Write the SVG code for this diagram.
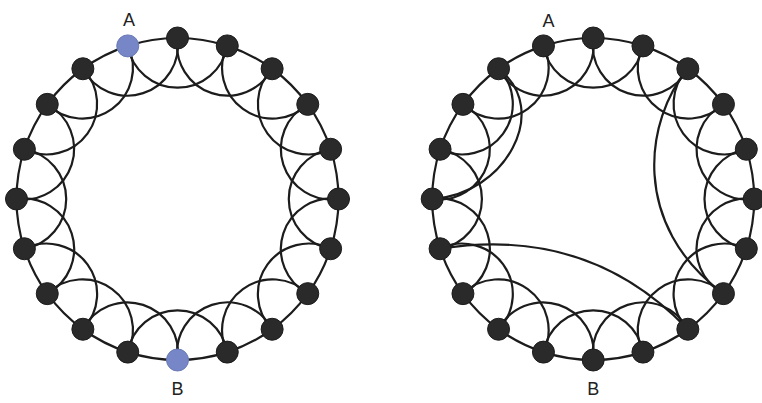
<svg xmlns="http://www.w3.org/2000/svg" xmlns:xlink="http://www.w3.org/1999/xlink" width="762" height="403" viewBox="0 0 762 403">
<style>
.e{fill:none;stroke:#1c1c1c;stroke-width:2.2}
.n{fill:#2a2a2a;stroke:#1c1c1c;stroke-width:1}
.b{fill:#7686c6;stroke:#6a7ab8;stroke-width:1}
.t{font-family:"Liberation Sans",Arial,sans-serif;font-size:18px;fill:#222;text-anchor:middle}
</style>
<defs>
<path id="inner" d="M0,-161 A50.5,50.5 0 0 0 94.63,-130.25"/>
<path id="outer" d="M0,-161 A161,161 0 0 1 49.75,-153.12"/>
</defs>
<rect width="762" height="403" fill="#fff"/>
<g id="connectors" class="e">
<g id="left-edges" transform="translate(177.5,199)">
<use href="#inner"/><use href="#inner" transform="rotate(18)"/><use href="#inner" transform="rotate(36)"/><use href="#inner" transform="rotate(54)"/><use href="#inner" transform="rotate(72)"/><use href="#inner" transform="rotate(90)"/><use href="#inner" transform="rotate(108)"/><use href="#inner" transform="rotate(126)"/><use href="#inner" transform="rotate(144)"/><use href="#inner" transform="rotate(162)"/><use href="#inner" transform="rotate(180)"/><use href="#inner" transform="rotate(198)"/><use href="#inner" transform="rotate(216)"/><use href="#inner" transform="rotate(234)"/><use href="#inner" transform="rotate(252)"/><use href="#inner" transform="rotate(270)"/><use href="#inner" transform="rotate(288)"/><use href="#inner" transform="rotate(306)"/><use href="#inner" transform="rotate(324)"/><use href="#inner" transform="rotate(342)"/>
<use href="#outer"/><use href="#outer" transform="rotate(18)"/><use href="#outer" transform="rotate(36)"/><use href="#outer" transform="rotate(54)"/><use href="#outer" transform="rotate(72)"/><use href="#outer" transform="rotate(90)"/><use href="#outer" transform="rotate(108)"/><use href="#outer" transform="rotate(126)"/><use href="#outer" transform="rotate(144)"/><use href="#outer" transform="rotate(162)"/><use href="#outer" transform="rotate(180)"/><use href="#outer" transform="rotate(198)"/><use href="#outer" transform="rotate(216)"/><use href="#outer" transform="rotate(234)"/><use href="#outer" transform="rotate(252)"/><use href="#outer" transform="rotate(270)"/><use href="#outer" transform="rotate(288)"/><use href="#outer" transform="rotate(306)"/><use href="#outer" transform="rotate(324)"/><use href="#outer" transform="rotate(342)"/>
</g>
<g id="right-edges" transform="translate(593.2,199)">
<use href="#inner"/><use href="#inner" transform="rotate(18)"/><use href="#inner" transform="rotate(36)"/><use href="#inner" transform="rotate(54)"/><use href="#inner" transform="rotate(72)"/><use href="#inner" transform="rotate(90)"/><use href="#inner" transform="rotate(108)"/><use href="#inner" transform="rotate(126)"/><use href="#inner" transform="rotate(144)"/><use href="#inner" transform="rotate(162)"/><use href="#inner" transform="rotate(180)"/><use href="#inner" transform="rotate(198)"/><use href="#inner" transform="rotate(216)"/><use href="#inner" transform="rotate(234)"/><use href="#inner" transform="rotate(252)"/><use href="#inner" transform="rotate(270)"/><use href="#inner" transform="rotate(288)"/><use href="#inner" transform="rotate(306)"/><use href="#inner" transform="rotate(324)"/><use href="#inner" transform="rotate(342)"/>
<use href="#outer"/><use href="#outer" transform="rotate(18)"/><use href="#outer" transform="rotate(36)"/><use href="#outer" transform="rotate(54)"/><use href="#outer" transform="rotate(72)"/><use href="#outer" transform="rotate(90)"/><use href="#outer" transform="rotate(108)"/><use href="#outer" transform="rotate(126)"/><use href="#outer" transform="rotate(144)"/><use href="#outer" transform="rotate(162)"/><use href="#outer" transform="rotate(180)"/><use href="#outer" transform="rotate(198)"/><use href="#outer" transform="rotate(216)"/><use href="#outer" transform="rotate(234)"/><use href="#outer" transform="rotate(252)"/><use href="#outer" transform="rotate(270)"/><use href="#outer" transform="rotate(288)"/><use href="#outer" transform="rotate(306)"/><use href="#outer" transform="rotate(324)"/><use href="#outer" transform="rotate(342)"/>
</g>
<g id="shortcuts">
<path d="M432.2,199 C505,195 552,110 498.57,68.75"/>
<path d="M687.83,68.75 C645,120 630,225 723.45,293.63"/>
<path d="M440.08,248.75 C520,236 610,248 687.83,329.25"/>
</g>
</g>
<g id="left-nodes">
<g id="L0"><circle class="n" cx="177.5" cy="38" r="11"/></g>
<g id="L1"><circle class="n" cx="227.25" cy="45.88" r="11"/></g>
<g id="L2"><circle class="n" cx="272.13" cy="68.75" r="11"/></g>
<g id="L3"><circle class="n" cx="307.75" cy="104.37" r="11"/></g>
<g id="L4"><circle class="n" cx="330.62" cy="149.25" r="11"/></g>
<g id="L5"><circle class="n" cx="338.5" cy="199" r="11"/></g>
<g id="L6"><circle class="n" cx="330.62" cy="248.75" r="11"/></g>
<g id="L7"><circle class="n" cx="307.75" cy="293.63" r="11"/></g>
<g id="L8"><circle class="n" cx="272.13" cy="329.25" r="11"/></g>
<g id="L9"><circle class="n" cx="227.25" cy="352.12" r="11"/></g>
<g id="L10-B"><circle class="b" cx="177.5" cy="360" r="11"/><text class="t" x="177.5" y="395">B</text></g>
<g id="L11"><circle class="n" cx="127.75" cy="352.12" r="11"/></g>
<g id="L12"><circle class="n" cx="82.87" cy="329.25" r="11"/></g>
<g id="L13"><circle class="n" cx="47.25" cy="293.63" r="11"/></g>
<g id="L14"><circle class="n" cx="24.38" cy="248.75" r="11"/></g>
<g id="L15"><circle class="n" cx="16.5" cy="199" r="11"/></g>
<g id="L16"><circle class="n" cx="24.38" cy="149.25" r="11"/></g>
<g id="L17"><circle class="n" cx="47.25" cy="104.37" r="11"/></g>
<g id="L18"><circle class="n" cx="82.87" cy="68.75" r="11"/></g>
<g id="L19-A"><circle class="b" cx="127.75" cy="45.88" r="11"/><text class="t" x="129" y="26">A</text></g>
</g>
<g id="right-nodes">
<g id="R0"><circle class="n" cx="593.2" cy="38" r="11"/></g>
<g id="R1"><circle class="n" cx="642.95" cy="45.88" r="11"/></g>
<g id="R2"><circle class="n" cx="687.83" cy="68.75" r="11"/></g>
<g id="R3"><circle class="n" cx="723.45" cy="104.37" r="11"/></g>
<g id="R4"><circle class="n" cx="746.32" cy="149.25" r="11"/></g>
<g id="R5"><circle class="n" cx="754.2" cy="199" r="11"/></g>
<g id="R6"><circle class="n" cx="746.32" cy="248.75" r="11"/></g>
<g id="R7"><circle class="n" cx="723.45" cy="293.63" r="11"/></g>
<g id="R8"><circle class="n" cx="687.83" cy="329.25" r="11"/></g>
<g id="R9"><circle class="n" cx="642.95" cy="352.12" r="11"/></g>
<g id="R10-B"><circle class="n" cx="593.2" cy="360" r="11"/><text class="t" x="593.2" y="395">B</text></g>
<g id="R11"><circle class="n" cx="543.45" cy="352.12" r="11"/></g>
<g id="R12"><circle class="n" cx="498.57" cy="329.25" r="11"/></g>
<g id="R13"><circle class="n" cx="462.95" cy="293.63" r="11"/></g>
<g id="R14"><circle class="n" cx="440.08" cy="248.75" r="11"/></g>
<g id="R15"><circle class="n" cx="432.2" cy="199" r="11"/></g>
<g id="R16"><circle class="n" cx="440.08" cy="149.25" r="11"/></g>
<g id="R17"><circle class="n" cx="462.95" cy="104.37" r="11"/></g>
<g id="R18"><circle class="n" cx="498.57" cy="68.75" r="11"/></g>
<g id="R19-A"><circle class="n" cx="543.45" cy="45.88" r="11"/><text class="t" x="548.5" y="27">A</text></g>
</g>
</svg>
